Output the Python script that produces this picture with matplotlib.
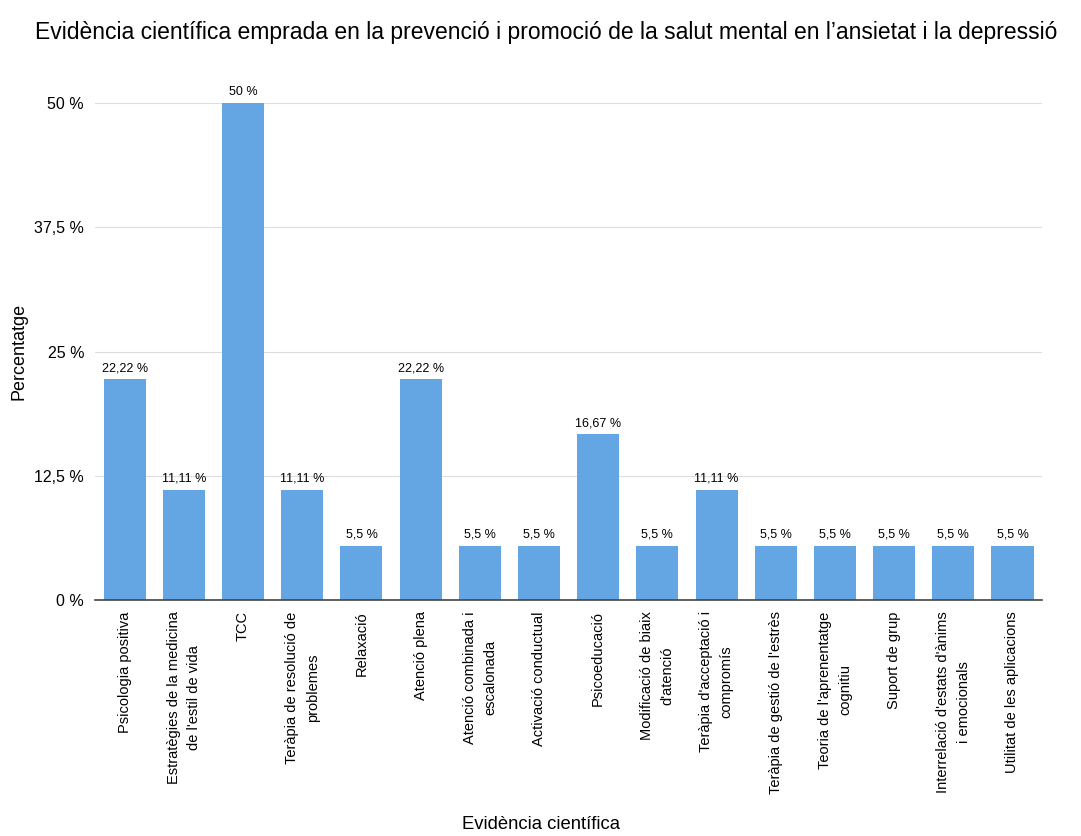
import matplotlib
matplotlib.use('Agg')
import matplotlib.pyplot as plt

plt.rcParams['font.family'] = ['Liberation Sans', 'DejaVu Sans']

# data
categories = [
    'Psicologia positiva',
    "Estratègies de la medicina\nde l'estil de vida",
    'TCC',
    'Teràpia de resolució de\nproblemes',
    'Relaxació',
    'Atenció plena',
    'Atenció combinada i\nescalonada',
    'Activació conductual',
    'Psicoeducació',
    'Modificació de biaix\nd\'atenció',
    "Teràpia d'acceptació i\ncompromís",
    "Teràpia de gestió de l'estrès",
    "Teoria de l'aprenentatge\ncognitiu",
    'Suport de grup',
    "Interrelació d'estats d'ànims\ni emocionals",
    'Utilitat de les aplicacions',
]
values = [22.22, 11.11, 50, 11.11, 5.5, 22.22, 5.5, 5.5, 16.67, 5.5, 11.11, 5.5, 5.5, 5.5, 5.5, 5.5]
yticks = [0, 12.5, 25, 37.5, 50]
ytick_labels = ['0 %', '12,5 %', '25 %', '37,5 %', '50 %']

fig = plt.figure(figsize=(10.81, 8.36), dpi=100)
ax = fig.add_axes([0.088, 0.282, 0.876, 0.595])

x = range(len(categories))
bars = ax.bar(x, values, width=0.71, color='#64a6e4', zorder=3)

for xi, v in zip(x, values):
    lbl = ('%g' % v).replace('.', ',') + ' %'
    ax.text(xi, v + 0.5, lbl, ha='center', va='bottom', fontsize=9, clip_on=False)

ax.set_xlim(-0.5, len(categories) - 0.5)
ax.set_ylim(0, 50)
ax.set_yticks(yticks)
ax.set_yticklabels(ytick_labels, fontsize=11.5)
ax.set_xticks(list(x))
ax.set_xticklabels(categories, rotation=90, ha='center', va='top',
                   multialignment='center', fontsize=10.5, linespacing=1.6)
ax.tick_params(axis='both', length=0, pad=8)
ax.yaxis.grid(True, color='#dddddd', linewidth=0.8, zorder=0)

for s in ['top', 'right', 'left']:
    ax.spines[s].set_visible(False)
ax.spines['bottom'].set_color('#444444')
ax.spines['bottom'].set_linewidth(1.2)
ax.spines['bottom'].set_zorder(4)

ax.set_ylabel('Percentatge', fontsize=13)
ax.yaxis.set_label_coords(-0.071, 0.5)
fig.text(0.5, 0.003, 'Evidència científica', ha='center', va='bottom', fontsize=13.3)
fig.text(0.032, 0.961, 'Evidència científica emprada en la prevenció i promoció de la salut mental en l’ansietat i la depressió',
         ha='left', va='center', fontsize=16.5)

plt.savefig('out.png')
